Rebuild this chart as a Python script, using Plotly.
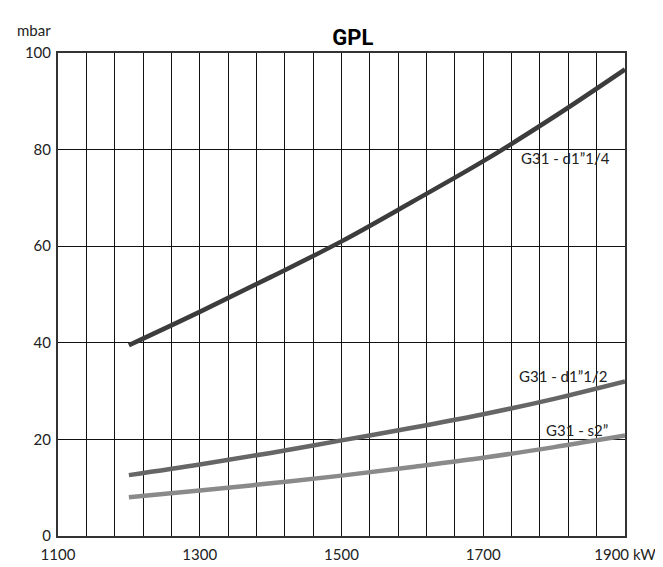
import plotly.graph_objects as go

# kW values on the x axis, pressure drop in mbar
kw = [1200, 1300, 1400, 1500, 1600, 1700, 1800, 1900]
d1_14 = [39.5, 46.4, 53.6, 61.0, 69.2, 77.6, 86.8, 96.6]
d1_12 = [12.6, 14.8, 17.2, 19.8, 22.4, 25.2, 28.4, 32.0]
s2 = [8.0, 9.4, 10.9, 12.5, 14.3, 16.2, 18.4, 20.8]

x_ticks = [1100, 1300, 1500, 1700, 1900]
x_ticktext = ["1100", "1300", "1500", "1700", "1900 kW"]
y_ticks = [0, 20, 40, 60, 80, 100]

fig = go.Figure()

fig.add_trace(go.Scatter(x=kw, y=d1_14, mode='lines', line=dict(color='#3c3c3c', width=4.5, shape='spline'), name='G31 - d1”1/4'))
fig.add_trace(go.Scatter(x=kw, y=d1_12, mode='lines', line=dict(color='#666666', width=4.5, shape='spline'), name='G31 - d1”1/2'))
fig.add_trace(go.Scatter(x=kw, y=s2, mode='lines', line=dict(color='#8a8a8a', width=4.5, shape='spline'), name='G31 - s2”'))

labels = [(1750, 78.2, 'G31 - d1”1/4'), (1747, 33.2, 'G31 - d1”1/2'), (1786, 22.0, 'G31 - s2”')]
for lx, ly, txt in labels:
    fig.add_annotation(x=lx, y=ly, text=txt, showarrow=False, xanchor='left', yanchor='middle',
                       font=dict(size=15, color='#222222'))

fig.add_annotation(xref='paper', yref='paper', x=-0.075, y=1.025, text='mbar', showarrow=False,
                   xanchor='left', yanchor='bottom', font=dict(size=15, color='#222222'))

fig.update_layout(
    width=663, height=567,
    margin=dict(l=50, r=46, t=45, b=31),
    paper_bgcolor='white', plot_bgcolor='white',
    showlegend=False,
    font=dict(family='Lato, Open Sans, sans-serif', size=15, color='#222222'),
    title=dict(text='<b>GPL</b>', x=0.52, xanchor='center', y=0.948, yanchor='middle',
               font=dict(family='Roboto, sans-serif', size=22, color='#000000')),
)
fig.update_xaxes(range=[1100, 1900], tickvals=x_ticks, ticktext=x_ticktext,
                 showgrid=True, gridcolor='#111111', gridwidth=1,
                 minor=dict(dtick=40, tick0=1100, showgrid=True, gridcolor='#111111', gridwidth=1),
                 showline=True, linecolor='#333333', linewidth=2, mirror=True,
                 ticks='', zeroline=False, ticklabelstandoff=4)
fig.update_yaxes(range=[0, 100], tickvals=y_ticks,
                 showgrid=True, gridcolor='#111111', gridwidth=1,
                 showline=True, linecolor='#333333', linewidth=2, mirror=True,
                 ticks='', zeroline=False, ticklabelstandoff=2)

fig.write_html("out.html")
